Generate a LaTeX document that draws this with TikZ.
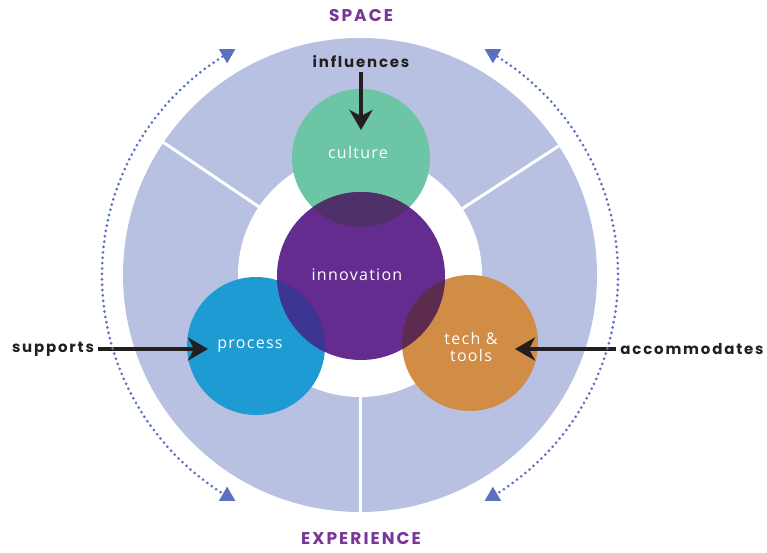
\documentclass[tikz,border=0pt]{standalone}
\usepackage{fontspec}
\newfontfamily\boldwordfont[LetterSpace=12]{Poppins}
\newfontfamily\innerwordfont[LetterSpace=8]{Open Sans}
\usetikzlibrary{arrows.meta,shapes.geometric}

\definecolor{diskblue}{RGB}{184,193,226}
\definecolor{culturegreen}{RGB}{108,197,164}
\definecolor{innovpurple}{RGB}{101,44,144}
\definecolor{processblue}{RGB}{30,155,211}
\definecolor{techorange}{RGB}{209,140,70}
\definecolor{overculture}{RGB}{80,48,105}
\definecolor{overprocess}{RGB}{60,53,145}
\definecolor{overtech}{RGB}{93,43,78}
\definecolor{orbitblue}{RGB}{92,112,192}
\definecolor{axispurple}{RGB}{120,55,150}
\definecolor{inkblack}{RGB}{35,31,32}

\begin{document}
\begin{tikzpicture}[x=1pt,y=1pt,
    >={Stealth[length=20pt,width=23pt,inset=6pt]},
    main node/.style={circle,inner sep=0pt},
    inner word/.style={text=white,inner sep=1pt,align=center,
      font=\innerwordfont\fontsize{16}{20}\selectfont},
    verb word/.style={text=inkblack,inner sep=4pt,
      font=\boldwordfont\bfseries\fontsize{15}{18}\selectfont},
    axis word/.style={text=axispurple,
      font=\boldwordfont\bfseries\fontsize{17}{20}\selectfont},
    pointer/.style={->,line width=4.2pt,draw=inkblack},
    orbit/.style={draw=orbitblue,line width=3pt,line cap=round,dash pattern=on 0pt off 5.4pt},
    marker/.style={regular polygon,regular polygon sides=3,fill=orbitblue,inner sep=0pt,minimum size=19pt},
    divider/.style={draw=white,line width=3pt}]

  \useasboundingbox (0,0) rectangle (767,552);
  \coordinate (o) at (360,277);

  % outer disk, white ring and dividers
  \fill[diskblue] (o) circle (237);
  \fill[white] (o) circle (122);
  \foreach \a in {146,33,270}
    \draw[divider] (o) ++(\a:121) -- ++(\a:117);

  % the four circles
  \node[main node,fill=culturegreen,minimum size=138pt] (1) at (361,394) {};
  \node[main node,fill=processblue,minimum size=138pt] (3) at (256,206) {};
  \node[main node,fill=techorange,minimum size=136pt] (4) at (470,209) {};
  \node[main node,fill=innovpurple,minimum size=168pt] (2) at (361,276) {};

  % overlaps
  \begin{scope}
    \clip (1.center) circle (69);
    \fill[overculture] (2.center) circle (84);
  \end{scope}
  \begin{scope}
    \clip (3.center) circle (69);
    \fill[overprocess] (2.center) circle (84);
  \end{scope}
  \begin{scope}
    \clip (4.center) circle (68);
    \fill[overtech] (2.center) circle (84);
  \end{scope}

  % circle words
  \node[inner word] (1w) at (358,399) {culture};
  \node[inner word] (2w) at (357,277) {innovation};
  \node[inner word] (3w) at (250,206) {process};
  \node[inner word] (4w) at (471,205) {tech \&\\[-3pt]tools};

  % verbs and pointers
  \coordinate (1tip) at (361,422);
  \coordinate (3tip) at (208,203);
  \coordinate (4tip) at (515,203);
  \node[verb word] (infl) at (361,490) {influences};
  \node[verb word] (supp) at (53,203) {supports};
  \node[verb word] (acco) at (692,203) {accommodates};
  \draw[pointer] (infl.south) -- (1tip);
  \draw[pointer] (supp.east) -- (3tip);
  \draw[pointer] (acco.west) -- (4tip);

  % axis words
  \node[axis word] (space) at (361,536) {SPACE};
  \node[axis word] (exper) at (361,13) {EXPERIENCE};

  % dotted orbits with markers
  \path (o) ++(121:258) coordinate (tl);
  \path (o) ++(239:258) coordinate (bl);
  \path (o) ++(59:258) coordinate (tr);
  \path (o) ++(-59:258) coordinate (br);
  \draw[orbit] (tl) arc[start angle=121,end angle=239,radius=258];
  \draw[orbit] (tr) arc[start angle=59,end angle=-59,radius=258];
  \node[marker,shape border rotate=180] (tlm) at (tl) {};
  \node[marker,shape border rotate=180] (trm) at (tr) {};
  \node[marker] (blm) at (bl) {};
  \node[marker] (brm) at (br) {};
\end{tikzpicture}
\end{document}
